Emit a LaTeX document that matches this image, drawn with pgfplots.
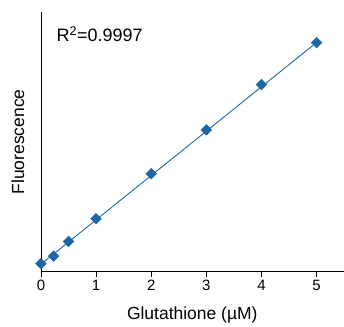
\documentclass[border=0pt]{standalone}
\usepackage{pgfplots}
\pgfplotsset{compat=1.18}
\usepackage{fontspec}
\setmainfont{Liberation Sans}
\definecolor{ptblue}{HTML}{1C66A6}
\begin{document}
\begin{tikzpicture}
\begin{axis}[
  scale only axis,
  width=303bp, height=260bp,
  xmin=0, xmax=5.49, ymin=0, ymax=260,
  axis x line*=bottom, axis y line*=left,
  axis line style={line width=0.8pt, black},
  xtick={0,1,2,3,4,5},
  ytick=\empty,
  tick align=outside,
  major tick length=5bp,
  tick style={black, line width=0.8pt},
  /pgf/number format/assume math mode=true,
  ticklabel style={font=\fontsize{15bp}{17bp}\selectfont},
  xlabel={Glutathione (µM)},
  ylabel={Fluorescence},
  label style={font=\fontsize{17.5bp}{20bp}\selectfont},
  xlabel style={at={(axis description cs:0.5,0)}, anchor=center, yshift=-43bp},
  ylabel style={at={(axis description cs:0,0.5)}, anchor=center, xshift=0bp, yshift=23bp},
  clip=false,
]
\addplot[ptblue, line width=0.9pt, forget plot] coordinates {(0,7.5) (5,229.5)};
\addplot[only marks, mark=square*, mark size=3.8bp, mark options={fill=ptblue, draw=ptblue, rotate=45}] coordinates {
(0,8) (0.23,15.5) (0.5,30.3) (1,53) (2,98) (3,142) (4,187.3) (5,229.3)
};
\node[anchor=west, font=\fontsize{18bp}{20bp}\selectfont] at (axis cs:0.22,238) {R\textsuperscript{2}=0.9997};
\path (rel axis cs:0,0) ++(-41bp,-50bp) coordinate (bl);
\path (rel axis cs:1,1) ++(0bp,12bp) coordinate (tr);
\end{axis}
\useasboundingbox (bl) rectangle (tr);
\end{tikzpicture}
\end{document}
